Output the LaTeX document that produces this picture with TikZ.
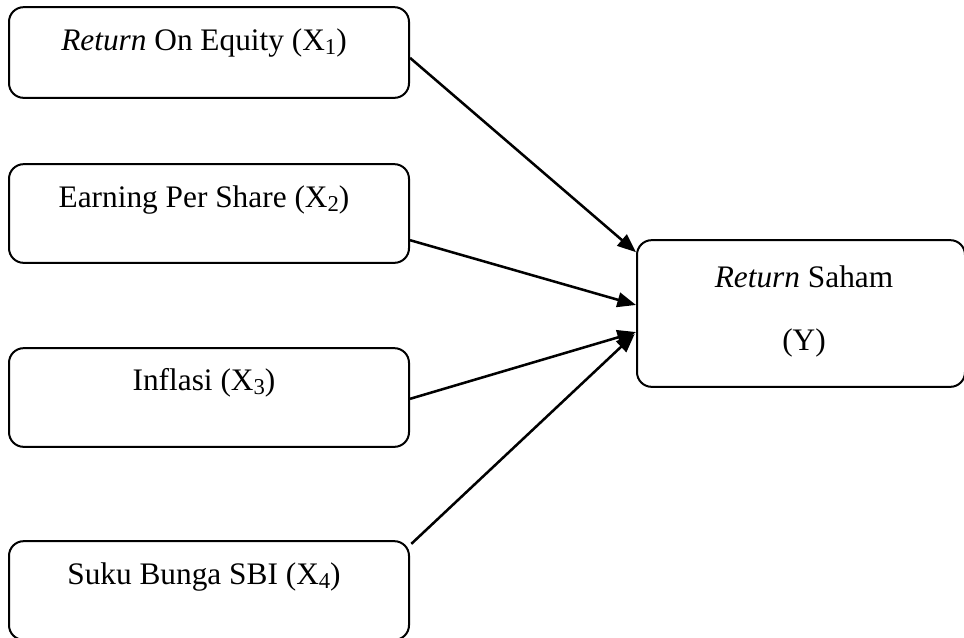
\documentclass[tikz,border=0pt]{standalone}
\usepackage{fontspec}
\setmainfont{Liberation Serif}
\usetikzlibrary{arrows.meta}
\newcommand{\subx}[1]{X\raisebox{-0.28ex}{\fontsize{17}{20}\selectfont #1}}
\begin{document}
\begin{tikzpicture}[x=0.75pt,y=-0.75pt,
  box/.style={draw=black,line width=1.5pt,rounded corners=11pt,inner sep=0pt},
  lbl/.style={font=\fontsize{23.5}{28}\selectfont,inner sep=0pt,anchor=center},
  arr/.style={line width=1.9pt,-{Triangle[length=14pt,width=11pt]}}]
\useasboundingbox (0,0) rectangle (964,637);
\node[box,minimum width=300pt,minimum height=68pt] (b1) at (209,52.5) {};
\node[box,minimum width=300pt,minimum height=74pt] (b2) at (209,213.5) {};
\node[box,minimum width=300pt,minimum height=74pt] (b3) at (209,397.5) {};
\node[box,minimum width=300pt,minimum height=74pt] (b4) at (209,590.5) {};
\node[box,minimum width=246pt,minimum height=110pt] (y) at (801,313.5) {};
\node[lbl] (t1) at (204,43) {\textit{Return} On Equity (\subx{1})};
\node[lbl] (t2) at (204,200) {Earning Per Share (\subx{2})};
\node[lbl] (t3) at (204,383) {Inflasi (\subx{3})};
\node[lbl] (t4) at (204,577) {Suku Bunga SBI (\subx{4})};
\node[lbl] (ty1) at (804,277) {\textit{Return} Saham};
\node[lbl] (ty2) at (804,343) {(Y)};
\draw[arr] ([yshift=-4pt]b1.east) -- ([yshift=46pt]y.west);
\draw[arr] ([yshift=-20pt]b2.east) -- ([yshift=6.4pt]y.west);
\draw[arr] ([yshift=-1pt]b3.east) -- ([yshift=-13.9pt]y.west);
\draw[arr] ([yshift=35pt,xshift=1pt]b4.east) -- ([yshift=-15.4pt,xshift=-1pt]y.west);
\end{tikzpicture}
\end{document}
